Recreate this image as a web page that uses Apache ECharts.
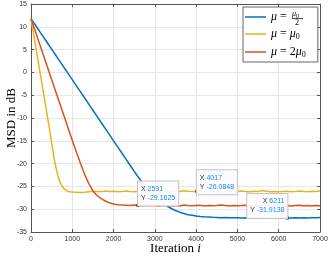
<!DOCTYPE html>
<html><head><meta charset="utf-8">
<script src="https://cdn.jsdelivr.net/npm/echarts@6/dist/echarts.min.js"></script>
<style>html,body{margin:0;padding:0;background:#fff}#c{width:329px;height:257px}</style>
</head><body><div id="c"></div>
<script>
const iterations = [0,50,100,150,200,250,300,350,400,450,
  500,550,600,650,700,750,800,850,900,950,
  1000,1100,1200,1300,1400,1500,1600,1700,1800,1900,
  2000,2100,2200,2300,2400,2500,2600,2700,2800,2900,
  3000,3100,3200,3300,3400,3500,3600,3700,3800,3900,
  4000,4100,4200,4300,4400,4500,4600,4700,4800,4900,
  5000,5100,5200,5300,5400,5500,5600,5700,5800,5900,
  6000,6100,6200,6300,6400,6500,6600,6700,6800,6900,
  7000];
const msdHalfMu0 = [11.8,11.13,10.46,9.79,9.12,8.45,7.78,7.11,6.44,5.77,
  5.1,4.43,3.76,3.09,2.42,1.75,1.08,0.41,-0.26,-0.93,
  -1.6,-2.94,-4.28,-5.62,-6.96,-8.3,-9.64,-10.98,-12.32,-13.66,
  -15.0,-16.34,-17.68,-19.02,-20.36,-21.7,-23.0,-24.2,-25.3,-26.3,
  -27.2,-28.0,-28.7,-29.35,-29.85,-30.3,-30.65,-30.95,-31.2,-31.35,
  -31.5,-31.6,-31.68,-31.72,-31.78,-31.8,-31.85,-31.83,-31.88,-31.9,
  -31.87,-31.92,-31.9,-31.95,-31.9,-31.93,-31.88,-31.92,-31.95,-31.9,
  -31.94,-31.9,-31.91,-31.95,-31.88,-31.92,-31.9,-31.95,-31.9,-31.85,
  -31.82];
const msdMu0 = [11.8,9.1,6.4,3.7,1.0,-1.7,-4.4,-7.1,-9.8,-12.5,
  -15.4,-18.3,-20.7,-22.6,-24.0,-24.9,-25.5,-25.9,-26.1,-26.2,
  -26.25,-26.3,-26.35,-26.3,-26.15,-26.05,-26.1,-26.15,-26.0,-26.1,
  -26.05,-26.15,-26.1,-26.0,-26.1,-26.15,-26.05,-26.1,-26.2,-26.1,
  -26.0,-26.1,-26.15,-26.05,-26.1,-26.2,-26.1,-25.95,-26.05,-26.1,
  -26.1,-26.05,-26.15,-26.1,-26.0,-26.1,-26.15,-26.05,-26.1,-26.2,
  -26.1,-26.0,-26.1,-26.15,-26.05,-26.1,-25.9,-26.05,-26.15,-26.1,
  -26.2,-26.1,-26.05,-26.15,-26.1,-26.0,-26.1,-26.15,-26.05,-26.1,
  -26.0];
const msd2Mu0 = [11.8,10.47,9.13,7.8,6.46,5.13,3.79,2.46,1.12,-0.22,
  -1.55,-2.89,-4.22,-5.56,-6.89,-8.23,-9.56,-10.9,-12.23,-13.57,
  -14.9,-17.5,-20.0,-22.4,-24.4,-26.0,-27.0,-27.7,-28.2,-28.6,
  -28.85,-29.0,-29.1,-29.15,-29.2,-29.1,-29.16,-29.25,-29.2,-29.15,
  -29.2,-29.3,-29.2,-29.15,-29.25,-29.2,-29.3,-29.1,-29.2,-29.25,
  -29.2,-29.15,-29.3,-29.2,-29.25,-29.2,-29.1,-29.2,-29.3,-29.2,
  -29.25,-29.2,-29.15,-29.3,-29.2,-29.25,-29.15,-29.2,-29.3,-29.2,
  -29.1,-29.25,-29.2,-29.3,-29.2,-29.15,-29.25,-29.2,-29.3,-29.2,
  -29.25];
const seriesNames = ['half', 'mu0', 'twomu0'];
const xTicks = [0,1000,2000,3000,4000,5000,6000,7000];
const yTicks = [-35,-30,-25,-20,-15,-10,-5,0,5,10,15];
// datatips: [iteration, value, series index]
const tipIter = [2591, 4017, 6211];
const tipValue = [-29.1625, -26.0848, -31.9138];
const tipSeries = [2, 1, 0];

const colors = ['#0072BD', '#EDB120', '#D95319'];
const serif = 'Liberation Serif';
const sans = 'Liberation Sans';
const axisColor = '#555555';

function pairs(ys){ return iterations.map((x,i)=>[x, ys[i]]); }
const allData = [msdHalfMu0, msdMu0, msd2Mu0];

const tipLayouts = [
  {align:'left', position:[1.5,1.5]},
  {align:'left', position:[1.5,4.5]},
  {align:'right', position:[1.5,1.5]}
];

const series = allData.map((d, si) => {
  const s = {
    name: seriesNames[si], type: 'line', data: pairs(d), symbol: 'none',
    lineStyle: {color: colors[si], width: 1.5}, itemStyle: {color: colors[si]},
    animation: false, z: 2 + si
  };
  const tips = [];
  tipSeries.forEach((ts, k) => { if (ts === si) tips.push(k); });
  if (tips.length) {
    s.markPoint = {
      animation: false,
      symbol: 'rect', symbolSize: 3,
      itemStyle: {color: '#111'},
      data: tips.map(k => ({
        coord: [tipIter[k], tipValue[k]],
        label: {
          show: true,
          position: tipLayouts[k].position,
          align: tipLayouts[k].align,
          verticalAlign: 'bottom',
          backgroundColor: 'rgba(252,252,255,0.95)',
          borderColor: '#c4c4c4', borderWidth: 1,
          padding: [3, 3, 3, 3],
          formatter: '{k|X }{v|' + tipIter[k] + '}\n{k|Y }{v|' + tipValue[k] + '}',
          rich: {
            k: {fontFamily: sans, fontSize: 7, color: '#333', lineHeight: 9},
            v: {fontFamily: sans, fontSize: 7, color: '#1a8ae6', lineHeight: 9}
          }
        }
      }))
    };
  }
  return s;
});

const richLegend = {
  it: {fontFamily: serif, fontStyle: 'italic', fontSize: 12, color: '#000'},
  n: {fontFamily: serif, fontSize: 12, color: '#000'},
  sub: {fontFamily: serif, fontSize: 8, color: '#000', padding: [6, 0, 0, 0]},
  sp: {fontSize: 12, width: 12}
};

const chart = echarts.init(document.getElementById('c'), null, {renderer: 'canvas'});
const axisCommon = {
  type: 'value',
  axisLine: {show: true, onZero: false, lineStyle: {color: axisColor, width: 1}},
  axisTick: {show: true, inside: true, length: 3, lineStyle: {color: axisColor}},
};
chart.setOption({
  animation: false,
  grid: {left: 31, right: 9, top: 4, bottom: 25, containLabel: false, outerBoundsMode: 'none'},
  xAxis: [
    Object.assign({}, axisCommon, {
      min: xTicks[0], max: xTicks[xTicks.length-1], interval: xTicks[1]-xTicks[0],
      position: 'bottom',
      axisLabel: {fontFamily: sans, fontSize: 7, color: '#333', margin: 4, formatter: v => String(v)},
      splitLine: {show: true, lineStyle: {color: '#e6e6e6', width: 1}},
      name: '{a|Iteration }{b|i}', nameLocation: 'middle', nameGap: 10, nameMoveOverlap: false,
      nameTextStyle: {verticalAlign: 'top', rich: {
        a: {fontFamily: serif, fontSize: 13, color: '#000'},
        b: {fontFamily: serif, fontStyle: 'italic', fontSize: 13, color: '#000'}
      }}
    }),
    Object.assign({}, axisCommon, {
      min: xTicks[0], max: xTicks[xTicks.length-1], interval: xTicks[1]-xTicks[0],
      position: 'top', axisLabel: {show: false}, splitLine: {show: false}
    })
  ],
  yAxis: [
    Object.assign({}, axisCommon, {
      min: yTicks[0], max: yTicks[yTicks.length-1], interval: yTicks[1]-yTicks[0],
      position: 'left',
      axisLabel: {fontFamily: sans, fontSize: 7, color: '#333', margin: 4, formatter: v => String(v)},
      splitLine: {show: true, lineStyle: {color: '#e6e6e6', width: 1}},
      name: 'MSD in dB', nameLocation: 'middle', nameGap: 13, nameRotate: 90, nameMoveOverlap: false,
      nameTextStyle: {fontFamily: serif, fontSize: 13, color: '#000'}
    }),
    Object.assign({}, axisCommon, {
      min: yTicks[0], max: yTicks[yTicks.length-1], interval: yTicks[1]-yTicks[0],
      position: 'right', axisLabel: {show: false}, splitLine: {show: false}
    })
  ],
  legend: {
    show: true, orient: 'vertical', left: 243, top: 7,
    width: 76, padding: [4, 12, 3, 2], itemGap: 5,
    icon: 'rect', itemWidth: 21, itemHeight: 1.5,
    backgroundColor: '#fff', borderColor: '#666', borderWidth: 1,
    data: seriesNames,
    formatter: function(name){
      if (name === seriesNames[0]) return '{it|μ}{n| = }{sp|}';
      if (name === seriesNames[1]) return '{it|μ}{n| = }{it|μ}{sub|0}';
      return '{it|μ}{n| = 2}{it|μ}{sub|0}';
    },
    textStyle: {rich: richLegend}
  },
  graphic: [
    {type: 'text', left: 292, top: 10, z: 100,
     style: {text: '{it|μ}{s|0}', rich: {
       it: {fontFamily: serif, fontStyle: 'italic', fontSize: 8, color: '#000'},
       s: {fontFamily: serif, fontSize: 6, color: '#000', padding: [4,0,0,0]}}}},
    {type: 'line', z: 100, shape: {x1: 292, y1: 18.5, x2: 303, y2: 18.5}, style: {stroke: '#000', lineWidth: 0.7}},
    {type: 'text', left: 295, top: 19, z: 100,
     style: {text: '2', fontFamily: serif, fontSize: 8, fill: '#000'}}
  ],
  series: series
});
</script></body></html>
